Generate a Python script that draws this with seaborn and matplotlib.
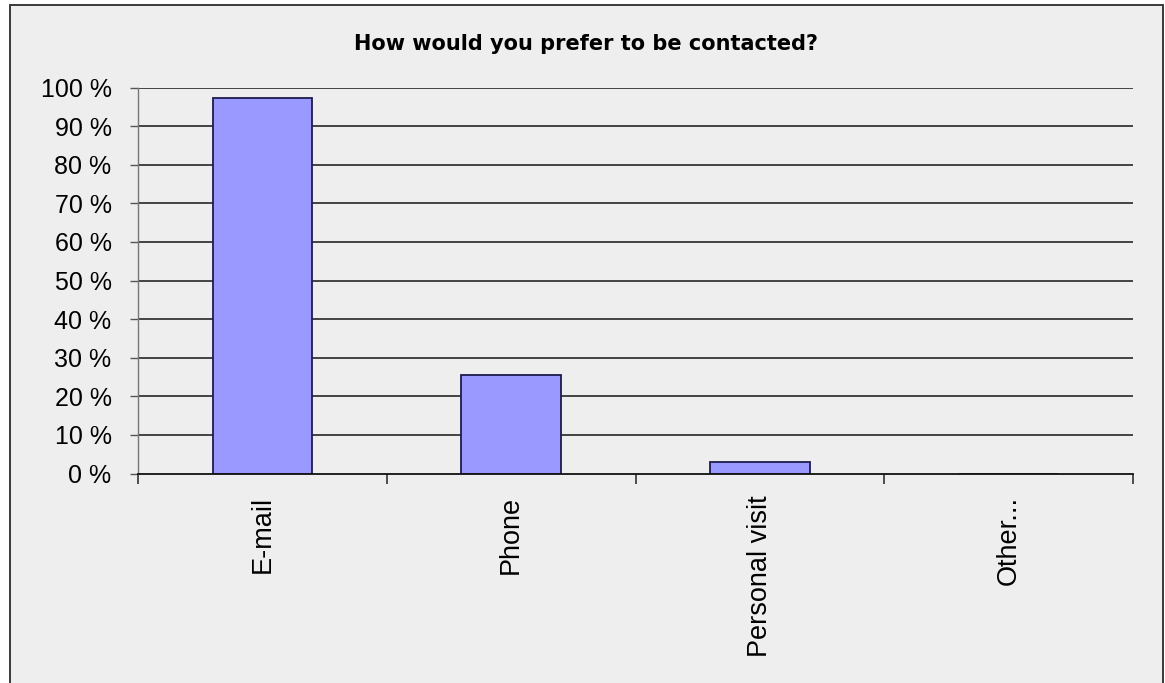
import matplotlib
matplotlib.use("Agg")
import matplotlib.pyplot as plt
from matplotlib.patches import Rectangle
from matplotlib.ticker import FixedLocator, FuncFormatter
import seaborn as sns
import pandas as pd

# Survey answers: share of respondents (%) per contact channel
channels = ["E-mail", "Phone", "Personal visit", "Other..."]
shares = [97.2, 25.5, 3.0, 0.0]
y_ticks = list(range(0, 101, 10))
title = "How would you prefer to be contacted?"

df = pd.DataFrame({"channel": channels, "share": shares})

sns.set_theme(style="white")
plt.rcParams["font.family"] = ["Liberation Sans", "DejaVu Sans"]

W, H = 1165, 683
fig = plt.figure(figsize=(W / 100, H / 100), dpi=100, facecolor="white")

# chart-area panel with its border (bottom edge runs off the canvas)
panel = Rectangle((10 / W, -0.02), (1163 - 10) / W, 1.02 - 5 / H,
                  transform=fig.transFigure, facecolor="#EEEEEE",
                  edgecolor="#3a3a3a", linewidth=1.4, zorder=-10)
fig.patches.append(panel)

ax = fig.add_axes([138 / W, 1 - 473.5 / H, (1133 - 138) / W, (473.5 - 87.5) / H])
ax.set_zorder(5)
ax.patch.set_alpha(0)

sns.barplot(data=df, x="channel", y="share", order=channels, ax=ax,
            color="#9999FF", saturation=1, width=0.4,
            edgecolor="#1c1c4c", linewidth=1.3, zorder=3)

ax.set_xlim(-0.5, len(channels) - 0.5)
ax.set_ylim(0, 100)

# horizontal gridlines
for v in y_ticks[1:]:
    ax.axhline(v, color="#262626", linewidth=1.2, zorder=1)

ax.yaxis.set_major_locator(FixedLocator(y_ticks))
ax.yaxis.set_major_formatter(FuncFormatter(lambda v, p: f"{int(v)} %"))
ax.tick_params(axis="y", which="major", length=6, width=1, color="#555555",
               pad=13, labelsize=18, labelcolor="black", left=True)

# category labels centred, tick marks on category boundaries
ax.set_xticks(range(len(channels)))
ax.set_xticklabels(channels, rotation=90, va="top", ha="center")
ax.tick_params(axis="x", which="major", length=0, pad=16, labelsize=19.5,
               labelcolor="black")
ax.xaxis.set_minor_locator(FixedLocator([i - 0.5 for i in range(len(channels) + 1)]))
ax.tick_params(axis="x", which="minor", length=7, width=1.1, color="#222222",
               bottom=True)

ax.set_xlabel("")
ax.set_ylabel("")

for s in ["top", "right"]:
    ax.spines[s].set_visible(False)
ax.spines["left"].set_color("#777777")
ax.spines["left"].set_linewidth(1.0)
ax.spines["bottom"].set_color("#111111")
ax.spines["bottom"].set_linewidth(1.3)
ax.spines["bottom"].set_zorder(4)

fig.text(586 / W, 1 - 44 / H, title, ha="center", va="center",
         fontsize=15, fontweight="bold", family=["DejaVu Sans"], color="black")

fig.savefig("out.png", dpi=100, facecolor="white")
